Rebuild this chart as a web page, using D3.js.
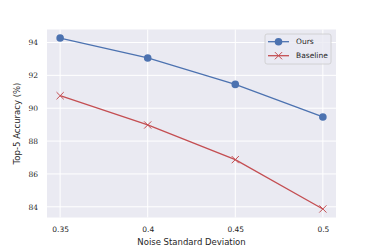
<!doctype html>
<html lang="en">
<head>
<meta charset="utf-8">
<title>Top-5 Accuracy vs Noise</title>
<style>
  body { margin: 0; background: #fff; }
  svg { display: block; }
</style>
<script src="https://cdn.jsdelivr.net/npm/d3@7"></script>
</head>
<body>
<script>
// data
const noiseStd   = [0.35, 0.4, 0.45, 0.5];
const oursAcc    = [94.27, 93.06, 91.45, 89.47];
const baseAcc    = [90.76, 88.98, 86.87, 83.87];
const xTicks     = [0.35, 0.4, 0.45, 0.5];
const yTicks     = [84, 86, 88, 90, 92, 94];
const seriesNames = ["Ours", "Baseline"];

const width = 374, height = 249;
const plot = {left: 47, top: 29.5, right: 336, bottom: 217.5};

const svg = d3.select("body").append("svg")
    .attr("width", width)
    .attr("height", height);

const x = d3.scaleLinear()
    .domain([0.3425, 0.5075])
    .range([plot.left, plot.right]);

const y = d3.scaleLinear()
    .domain([83.35, 94.79])
    .range([plot.bottom, plot.top]);

// background panel
svg.append("rect")
    .attr("x", plot.left)
    .attr("y", plot.top)
    .attr("width", plot.right - plot.left)
    .attr("height", plot.bottom - plot.top)
    .attr("fill", "#eaeaf2");

// grid
svg.append("g")
  .selectAll("line")
  .data(xTicks)
  .join("line")
    .attr("x1", d => x(d)).attr("x2", d => x(d))
    .attr("y1", plot.top).attr("y2", plot.bottom)
    .attr("stroke", "#fff").attr("stroke-width", 1);

svg.append("g")
  .selectAll("line")
  .data(yTicks)
  .join("line")
    .attr("x1", plot.left).attr("x2", plot.right)
    .attr("y1", d => y(d)).attr("y2", d => y(d))
    .attr("stroke", "#fff").attr("stroke-width", 1);

// axes (labels only, no domain lines)
const xAxis = svg.append("g")
    .attr("transform", `translate(0,${plot.bottom})`)
    .call(d3.axisBottom(x).tickValues(xTicks).tickSize(0).tickPadding(9).tickFormat(d3.format("")));
xAxis.select(".domain").remove();
xAxis.selectAll("text")
    .attr("fill", "#262626")
    .style("font-family", "'DejaVu Sans', sans-serif")
    .style("font-size", "7.5px");

const yAxis = svg.append("g")
    .attr("transform", `translate(${plot.left},0)`)
    .call(d3.axisLeft(y).tickValues(yTicks).tickSize(0).tickPadding(9));
yAxis.select(".domain").remove();
yAxis.selectAll("text")
    .attr("fill", "#262626")
    .style("font-family", "'DejaVu Serif', serif")
    .style("font-size", "7.5px");

// axis titles
svg.append("text")
    .attr("x", (plot.left + plot.right) / 2)
    .attr("y", 245)
    .attr("text-anchor", "middle")
    .attr("fill", "#262626")
    .style("font-family", "'DejaVu Sans', sans-serif")
    .style("font-size", "8.5px")
    .text("Noise Standard Deviation");

svg.append("text")
    .attr("transform", `translate(20,${(plot.top + plot.bottom) / 2}) rotate(-90)`)
    .attr("text-anchor", "middle")
    .attr("fill", "#262626")
    .style("font-family", "'DejaVu Sans', sans-serif")
    .style("font-size", "8.5px")
    .text("Top-5 Accuracy (%)");

const line = d3.line()
    .x((d, i) => x(noiseStd[i]))
    .y(d => y(d));

const colors = ["#4c72b0", "#c44e52"];

// Ours
svg.append("path")
    .datum(oursAcc)
    .attr("d", line)
    .attr("fill", "none")
    .attr("stroke", colors[0])
    .attr("stroke-width", 1.3);

svg.append("g")
  .selectAll("circle")
  .data(oursAcc)
  .join("circle")
    .attr("cx", (d, i) => x(noiseStd[i]))
    .attr("cy", d => y(d))
    .attr("r", 3.8)
    .attr("fill", colors[0]);

// Baseline
svg.append("path")
    .datum(baseAcc)
    .attr("d", line)
    .attr("fill", "none")
    .attr("stroke", colors[1])
    .attr("stroke-width", 1.3);

const cross = d3.symbol().type(d3.symbolX).size(40);
svg.append("g")
  .selectAll("path")
  .data(baseAcc)
  .join("path")
    .attr("transform", (d, i) => `translate(${x(noiseStd[i])},${y(d)})`)
    .attr("d", d3.symbol().type(d3.symbolCross).size(0))
    .attr("d", () => {
      const s = 3.6;
      return `M${-s},${-s}L${s},${s}M${-s},${s}L${s},${-s}`;
    })
    .attr("fill", "none")
    .attr("stroke", colors[1])
    .attr("stroke-width", 1);

// legend
const legend = svg.append("g").attr("transform", "translate(265,34)");
legend.append("rect")
    .attr("x", 0).attr("y", 0)
    .attr("width", 66).attr("height", 30)
    .attr("rx", 2)
    .attr("fill", "#eaeaf2")
    .attr("fill-opacity", 0.8)
    .attr("stroke", "#cccccc")
    .attr("stroke-width", 0.8);

seriesNames.forEach((name, i) => {
  const cy = 7.7 + i * 14;
  legend.append("line")
      .attr("x1", 3).attr("x2", 24)
      .attr("y1", cy).attr("y2", cy)
      .attr("stroke", colors[i]).attr("stroke-width", 1.3);
  if (i === 0) {
    legend.append("circle")
        .attr("cx", 13.5).attr("cy", cy).attr("r", 3.8)
        .attr("fill", colors[i]);
  } else {
    const s = 3.6;
    legend.append("path")
        .attr("d", `M${13.5 - s},${cy - s}L${13.5 + s},${cy + s}M${13.5 - s},${cy + s}L${13.5 + s},${cy - s}`)
        .attr("stroke", colors[i]).attr("stroke-width", 1).attr("fill", "none");
  }
  legend.append("text")
      .attr("x", 31).attr("y", cy)
      .attr("dy", "0.35em")
      .attr("fill", "#262626")
      .style("font-family", "'DejaVu Sans', sans-serif")
      .style("font-size", "7.5px")
      .text(name);
});
</script>
</body>
</html>
